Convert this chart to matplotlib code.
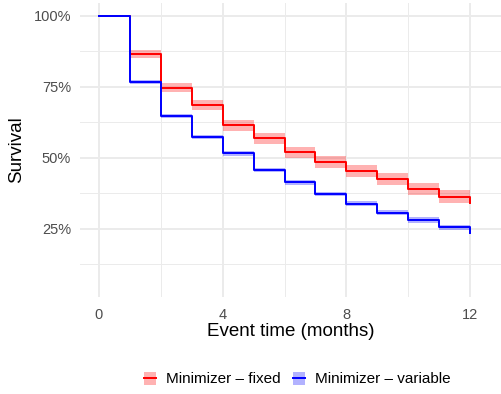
import matplotlib
matplotlib.use("Agg")
import matplotlib.pyplot as plt
from matplotlib.patches import Patch
from matplotlib.lines import Line2D
from matplotlib.ticker import FixedLocator, FuncFormatter

plt.rcParams['font.family'] = ['Liberation Sans', 'DejaVu Sans']

# ---- data ----
times = [0, 1, 2, 3, 4, 5, 6, 7, 8, 9, 10, 11, 12]
fixed_surv = [1.0, 0.864, 0.747, 0.685, 0.614, 0.568, 0.519, 0.485, 0.453, 0.425, 0.390, 0.363, 0.340]
fixed_lower = [1.0, 0.850, 0.730, 0.667, 0.595, 0.548, 0.499, 0.464, 0.432, 0.404, 0.368, 0.341, 0.318]
fixed_upper = [1.0, 0.878, 0.764, 0.703, 0.633, 0.588, 0.539, 0.506, 0.474, 0.446, 0.412, 0.385, 0.362]
variable_surv = [1.0, 0.767, 0.647, 0.574, 0.516, 0.457, 0.414, 0.372, 0.338, 0.307, 0.281, 0.255, 0.234]
variable_lower = [1.0, 0.761, 0.640, 0.567, 0.508, 0.449, 0.406, 0.364, 0.329, 0.298, 0.272, 0.246, 0.225]
variable_upper = [1.0, 0.773, 0.654, 0.581, 0.524, 0.465, 0.422, 0.380, 0.347, 0.316, 0.290, 0.264, 0.243]

series_names = ["Minimizer \u2013 fixed", "Minimizer \u2013 variable"]
series_colors = ["#FF0000", "#0000FF"]

x_major = [0, 4, 8, 12]
x_minor = [2, 6, 10]
y_major = [0.25, 0.50, 0.75, 1.00]
y_minor = [0.125, 0.375, 0.625, 0.875]

# ---- figure ----
fig = plt.figure(figsize=(5.02, 3.94), dpi=100)
ax = fig.add_axes([80/502, (394-296.7)/394, 1 - 80/502, (296.7-3)/394])

grid_col = "#EBEBEB"
for s in ax.spines.values():
    s.set_visible(False)

ax.set_xlim(-0.614, 13.03)
ax.set_ylim(0.011, 1.045)

ax.xaxis.set_major_locator(FixedLocator(x_major))
ax.xaxis.set_minor_locator(FixedLocator(x_minor))
ax.yaxis.set_major_locator(FixedLocator(y_major))
ax.yaxis.set_minor_locator(FixedLocator(y_minor))
ax.yaxis.set_major_formatter(FuncFormatter(lambda v, p: f"{v*100:.0f}%"))

ax.grid(which="major", color=grid_col, linewidth=1.4)
ax.grid(which="minor", color=grid_col, linewidth=0.7)
ax.set_axisbelow(True)
ax.tick_params(which="both", length=0)
ax.tick_params(axis="x", pad=8, labelsize=10.5, labelcolor="#4D4D4D")
ax.tick_params(axis="y", pad=6.5, labelsize=10.5, labelcolor="#4D4D4D")

data = [
    (fixed_surv, fixed_lower, fixed_upper),
    (variable_surv, variable_lower, variable_upper),
]
handles = []
for (surv, lo, hi), name, col in zip(data, series_names, series_colors):
    ax.fill_between(times, lo, hi, step="post", color=col, alpha=0.3, linewidth=0)
    ax.step(times, surv, where="post", color=col, linewidth=1.42)
    handles.append((Patch(facecolor=col, alpha=0.3, edgecolor="none"),
                    Line2D([], [], color=col, linewidth=1.42)))

ax.set_xlabel("Event time (months)", fontsize=13.5)
ax.xaxis.set_label_coords(0.5, -(331 - 296.7) / 293.7)
ax.xaxis.label.set_va("center")
ax.set_ylabel("Survival", fontsize=13.5)
ax.yaxis.set_label_coords(-(80 - 17) / 422, 0.5)
ax.yaxis.label.set_va("center")

fig.legend(handles, series_names, loc="center", bbox_to_anchor=(297.5/502, (394-379)/394),
           ncol=2, frameon=False, fontsize=11, handlelength=0.76, handleheight=0.92,
           handletextpad=0.7, columnspacing=0.8, borderpad=0, borderaxespad=0)

fig.savefig("out.png", dpi=100)
